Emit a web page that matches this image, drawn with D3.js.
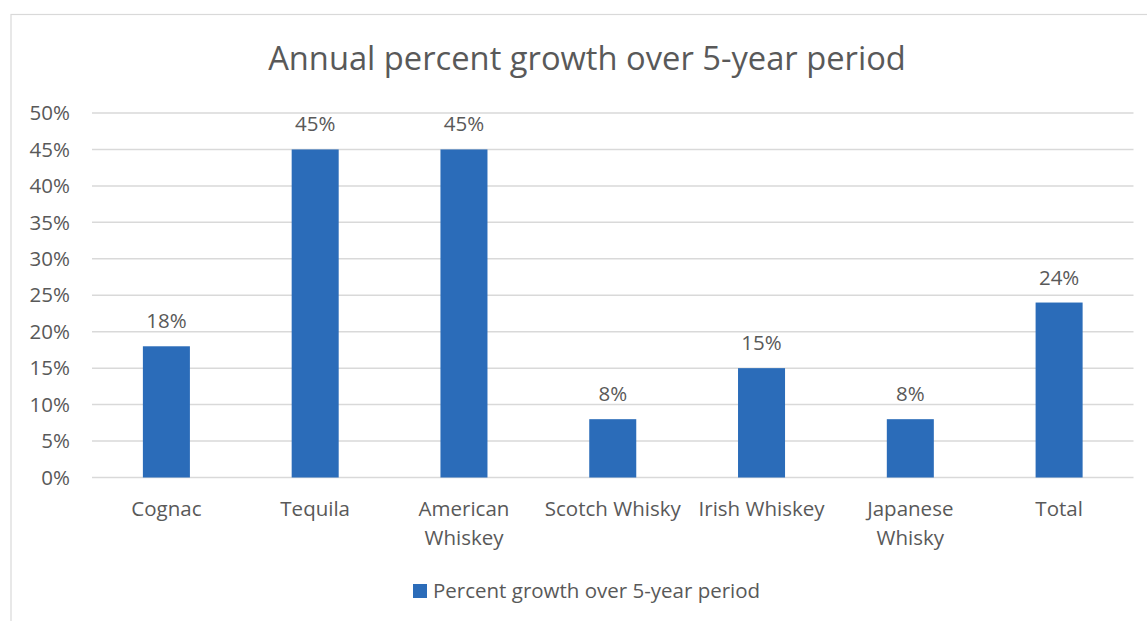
<!doctype html>
<html>
<head>
<meta charset="utf-8">
<script src="https://d3js.org/d3.v7.min.js"></script>
<style>
  body { margin: 0; background: #fff; }
  text { font-family: "Open Sans", sans-serif; fill: #595959; }
</style>
</head>
<body>
<svg width="1147" height="621"></svg>
<script>
var categories = ["Cognac", "Tequila", "American Whiskey", "Scotch Whisky", "Irish Whiskey", "Japanese Whisky", "Total"];
var labelLines = [["Cognac"], ["Tequila"], ["American", "Whiskey"], ["Scotch Whisky"], ["Irish Whiskey"], ["Japanese", "Whisky"], ["Total"]];
var growth = [0.18, 0.45, 0.45, 0.08, 0.15, 0.08, 0.24];
var yTicks = [0, 0.05, 0.10, 0.15, 0.20, 0.25, 0.30, 0.35, 0.40, 0.45, 0.50];
var seriesName = "Percent growth over 5-year period";
var title = "Annual percent growth over 5-year period";

var svg = d3.select("svg");
var barColor = "#2b6cb9";
var fs = "20.5px";

// chart frame
svg.append("rect")
  .attr("x", 11).attr("y", 14.5)
  .attr("width", 1150).attr("height", 620)
  .attr("fill", "none").attr("stroke", "#d9d9d9").attr("stroke-width", 1.2);

var x = d3.scaleBand().domain(categories).range([92, 1133.5]).paddingInner(0.684).paddingOuter(0.342);
var y = d3.scaleLinear().domain([0, 0.5]).range([477.5, 113]);

svg.append("text")
  .attr("x", 587).attr("y", 70)
  .attr("text-anchor", "middle")
  .style("font-size", "32.7px")
  .text(title);

// gridlines
svg.append("g").selectAll("line").data(yTicks).enter().append("line")
  .attr("x1", 92).attr("x2", 1133.5)
  .attr("y1", d => y(d)).attr("y2", d => y(d))
  .attr("stroke", "#d9d9d9").attr("stroke-width", 1.5);

// y labels
svg.append("g").selectAll("text").data(yTicks).enter().append("text")
  .attr("x", 70).attr("y", d => y(d)).attr("dy", "0.35em")
  .attr("text-anchor", "end")
  .style("font-size", fs)
  .text(d3.format(".0%"));

// bars
svg.append("g").selectAll("rect").data(growth).enter().append("rect")
  .attr("x", (d, i) => x(categories[i]))
  .attr("width", x.bandwidth())
  .attr("y", d => y(d))
  .attr("height", d => y(0) - y(d))
  .attr("fill", barColor);

// data labels
svg.append("g").selectAll("text").data(growth).enter().append("text")
  .attr("x", (d, i) => x(categories[i]) + x.bandwidth() / 2)
  .attr("y", d => y(d) - 18)
  .attr("text-anchor", "middle")
  .style("font-size", fs)
  .text(d3.format(".0%"));

// category labels
var cat = svg.append("g").selectAll("text").data(labelLines).enter().append("text")
  .attr("x", (d, i) => x(categories[i]) + x.bandwidth() / 2)
  .attr("y", 516)
  .attr("text-anchor", "middle")
  .style("font-size", fs);
cat.selectAll("tspan").data(d => d).enter().append("tspan")
  .attr("x", function() { return this.parentNode.getAttribute("x"); })
  .attr("dy", (d, i) => i === 0 ? 0 : 29)
  .text(d => d);

// legend
svg.append("rect").attr("x", 413).attr("y", 584).attr("width", 14).attr("height", 14).attr("fill", barColor);
svg.append("text").attr("x", 433).attr("y", 591).attr("dy", "0.35em")
  .style("font-size", fs).text(seriesName);
</script>
</body>
</html>
